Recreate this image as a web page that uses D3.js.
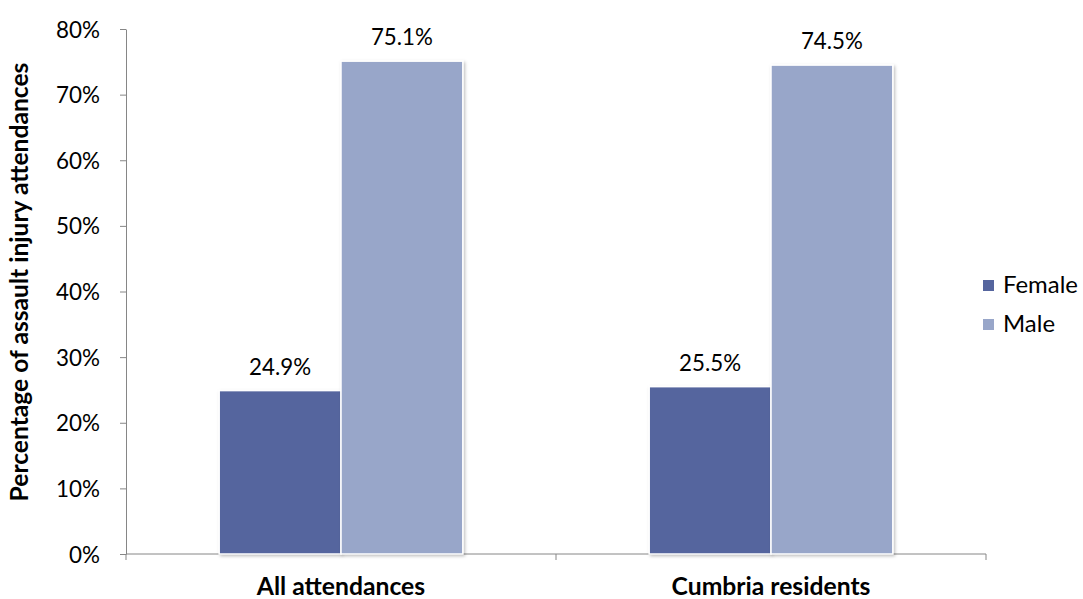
<!DOCTYPE html>
<html><head><meta charset="utf-8">
<script src="https://cdn.jsdelivr.net/npm/d3@7"></script>
<style>body{margin:0;background:#fff;} svg{display:block;font-family:Lato,"Open Sans",sans-serif;}</style>
</head><body>
<svg id="c" width="1083" height="599"></svg>
<script>
const categories = ["All attendances", "Cumbria residents"];
const seriesNames = ["Female", "Male"];
const female = [24.9, 25.5];
const male = [75.1, 74.5];
const yTicks = [0, 10, 20, 30, 40, 50, 60, 70, 80];
const colors = ["#55659e", "#98a6c9"];

const svg = d3.select("#c");
const x0 = d3.scaleBand().domain(categories).range([126, 986]).paddingInner(0).paddingOuter(0);
const y = d3.scaleLinear().domain([0, 80]).range([554, 29]);
const x1 = d3.scaleBand().domain(seriesNames).range([0, x0.bandwidth()]).paddingInner(0.0).paddingOuter(0.765);

// size a font so that a sample string has a given width
function fitSize(sample, target, weight) {
  const t = svg.append("text").attr("font-size", 20).attr("font-weight", weight || "normal").text(sample);
  const w = t.node().getComputedTextLength();
  t.remove();
  return 20 * target / w;
}
const tickFs = fitSize("80%", 44);
const labelFs = fitSize("75.1%", 62);
const catFs = fitSize("Cumbria residents", 199, "bold");
const titleFs = fitSize("Percentage of assault injury attendances", 439, "bold");
const legFs = fitSize("Female", 75);

const defs = svg.append("defs");
const f = defs.append("filter").attr("id", "sh").attr("x", "-10%").attr("y", "-10%").attr("width", "130%").attr("height", "130%");
f.append("feDropShadow").attr("dx", 1.5).attr("dy", 1.5).attr("stdDeviation", 1.5).attr("flood-color", "#000").attr("flood-opacity", 0.25);

// axes
const yAxis = d3.axisLeft(y).tickValues(yTicks).tickFormat(d => d + "%").tickSize(6).tickSizeOuter(0);
const ga = svg.append("g").attr("transform", "translate(126,0)").call(yAxis);
ga.attr("font-family", null).attr("font-size", null);
ga.select(".domain").attr("stroke", "#868686");
ga.selectAll(".tick line").attr("stroke", "#868686");
ga.selectAll("text").attr("font-size", tickFs).attr("fill", "#000").attr("x", -26).attr("dy", "0.36em");

const gx = svg.append("g").attr("transform", "translate(0,554)");
gx.append("line").attr("x1", 126).attr("x2", 986).attr("y1", 0).attr("y2", 0).attr("stroke", "#868686");
const boundaries = [x0.range()[0], x0(categories[1]), x0.range()[1]];
gx.selectAll("line.b").data(boundaries).enter().append("line").attr("class", "b")
  .attr("x1", d => d).attr("x2", d => d).attr("y1", 0).attr("y2", 6).attr("stroke", "#868686");

const data = categories.map((c, i) => ({cat: c, vals: [female[i], male[i]]}));
const groups = svg.append("g").selectAll("g").data(data).enter().append("g")
  .attr("transform", d => `translate(${x0(d.cat)},0)`);
groups.selectAll("rect").data(d => d.vals.map((v, j) => ({v, s: seriesNames[j], j}))).enter().append("rect")
  .attr("x", d => x1(d.s))
  .attr("y", d => y(d.v))
  .attr("width", x1.bandwidth())
  .attr("height", d => y(0) - y(d.v))
  .attr("fill", d => colors[d.j])
  .attr("stroke", "#fff").attr("stroke-width", 1.5)
  .attr("filter", "url(#sh)");
groups.selectAll("text").data(d => d.vals.map((v, j) => ({v, s: seriesNames[j]}))).enter().append("text")
  .attr("x", d => x1(d.s) + x1.bandwidth() / 2)
  .attr("y", d => y(d.v) - 16)
  .attr("text-anchor", "middle").attr("font-size", labelFs).attr("fill", "#000")
  .text(d => d.v.toFixed(1) + "%");

// category labels
svg.append("g").selectAll("text").data(categories).enter().append("text")
  .attr("x", d => x0(d) + x0.bandwidth() / 2).attr("y", 595)
  .attr("text-anchor", "middle").attr("font-size", catFs).attr("font-weight", "bold").attr("fill", "#000")
  .text(d => d);

// y title
svg.append("text").attr("transform", "translate(28,282) rotate(-90)")
  .attr("text-anchor", "middle").attr("font-size", titleFs).attr("font-weight", "bold").attr("fill", "#000")
  .text("Percentage of assault injury attendances");

// legend
const lg = svg.append("g").selectAll("g").data(seriesNames).enter().append("g")
  .attr("transform", (d, i) => `translate(983,${286 + i * 39})`);
lg.append("rect").attr("x", 0).attr("y", -6).attr("width", 11).attr("height", 11).attr("fill", (d, i) => colors[i]);
lg.append("text").attr("x", 20).attr("y", 7).attr("font-size", legFs).attr("fill", "#000").text(d => d);
</script>
</body></html>
